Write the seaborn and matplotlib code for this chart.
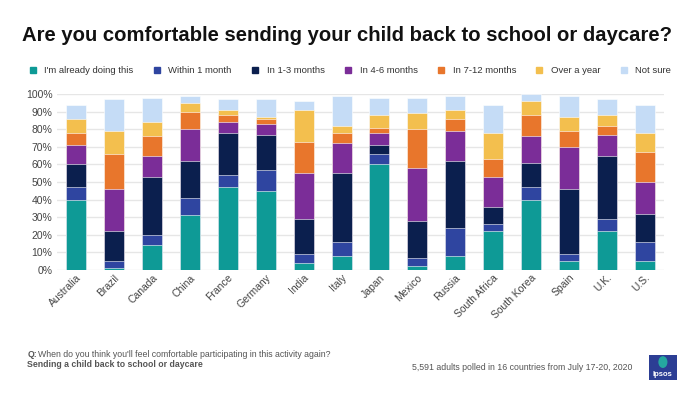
import pandas as pd
import numpy as np
import matplotlib.pyplot as plt
import matplotlib.patches as mpatches
import seaborn as sns

# Data (percent of adults)
countries = ['Australia', 'Brazil', 'Canada', 'China', 'France', 'Germany', 'India', 'Italy',
             'Japan', 'Mexico', 'Russia', 'South Africa', 'South Korea', 'Spain', 'U.K.', 'U.S.']
categories = ["I'm already doing this", 'Within 1 month', 'In 1-3 months', 'In 4-6 months',
              'In 7-12 months', 'Over a year', 'Not sure']

already = [40, 1, 14, 31, 47, 45, 4, 8, 60, 2, 8, 22, 40, 5, 22, 5]
within_1 = [7, 4, 6, 10, 7, 12, 5, 8, 6, 5, 16, 4, 7, 4, 7, 11]
months_1_3 = [13, 17, 33, 21, 24, 20, 20, 39, 5, 21, 38, 10, 14, 37, 36, 16]
months_4_6 = [11, 24, 12, 18, 6, 6, 26, 17, 7, 30, 17, 17, 15, 24, 12, 18]
months_7_12 = [7, 20, 11, 10, 4, 3, 18, 6, 3, 22, 7, 10, 12, 9, 5, 17]
over_year = [8, 13, 8, 5, 3, 1, 18, 4, 7, 9, 5, 15, 8, 8, 6, 11]
not_sure = [8, 18, 14, 4, 6, 10, 5, 17, 10, 9, 8, 16, 4, 12, 9, 16]

colors = ['#0e9a96', '#2f45a0', '#0b1f4e', '#7b2d98', '#e8762c', '#f3bf4e', '#c5dcf6']

df = pd.DataFrame({'country': countries})
series = [already, within_1, months_1_3, months_4_6, months_7_12, over_year, not_sure]
cum = np.cumsum(np.array(series), axis=0)

plt.rcParams['font.family'] = ['Liberation Sans', 'DejaVu Sans']
fig = plt.figure(figsize=(7, 3.94), dpi=100)
ax = fig.add_axes([0.082, 0.315, 0.866, 0.446])

# Stacked bars: draw cumulative totals from the top segment down
for i in range(len(categories) - 1, -1, -1):
    df['value'] = cum[i]
    sns.barplot(data=df, x='country', y='value', color=colors[i], width=0.53,
                edgecolor='white', linewidth=0.4, saturation=1, ax=ax, zorder=3)

ax.set_xlim(-0.5, len(countries) - 0.5)
ax.set_ylim(0, 100)
ax.set_yticks(range(0, 101, 10))
ax.set_yticklabels([f'{v}%' for v in range(0, 101, 10)])
ax.set_xlabel('')
ax.set_ylabel('')
ax.grid(axis='y', color='#e6e6e6', linewidth=1, zorder=0)
ax.set_axisbelow(True)
for s in ax.spines.values():
    s.set_visible(False)
ax.tick_params(axis='both', length=0, labelsize=7.5, colors='#444444')
ax.tick_params(axis='x', pad=2)
plt.setp(ax.get_xticklabels(), rotation=45, ha='right', rotation_mode='anchor')

fig.text(0.031, 0.91, 'Are you comfortable sending your child back to school or daycare?',
         fontsize=14.6, fontweight='bold', color='#111111', va='center')

handles = [mpatches.Patch(color=c, label=l) for c, l in zip(colors, categories)]
fig.legend(handles=handles, loc='center left', bbox_to_anchor=(0.03, 0.82), ncol=7,
           frameon=False, fontsize=6.8, handlelength=0.65, handleheight=0.65,
           handletextpad=0.9, columnspacing=2.15, labelcolor='#333333')

fig.text(0.039, 0.099, 'Q:', fontsize=6.3, fontweight='bold', color='#555555', va='center')
fig.text(0.055, 0.099, "When do you think you'll feel comfortable participating in this activity again?",
         fontsize=6.3, color='#555555', va='center')
fig.text(0.039, 0.075, 'Sending a child back to school or daycare', fontsize=6.3,
         fontweight='bold', color='#555555', va='center')
fig.text(0.903, 0.066, '5,591 adults polled in 16 countries from July 17-20, 2020',
         fontsize=6.3, color='#555555', ha='right', va='center')

# Ipsos logo box
fig.patches.append(mpatches.Rectangle((0.927, 0.036), 0.04, 0.064, transform=fig.transFigure,
                                      facecolor='#2c3e94', edgecolor='none'))
fig.patches.append(mpatches.Ellipse((0.947, 0.081), 0.013, 0.03, transform=fig.transFigure,
                                    facecolor='#25a7a0', edgecolor='none'))
fig.text(0.947, 0.05, 'Ipsos', fontsize=5.5, fontweight='bold', color='white',
         ha='center', va='center')

fig.savefig('out.png', dpi=100)
plt.close()
